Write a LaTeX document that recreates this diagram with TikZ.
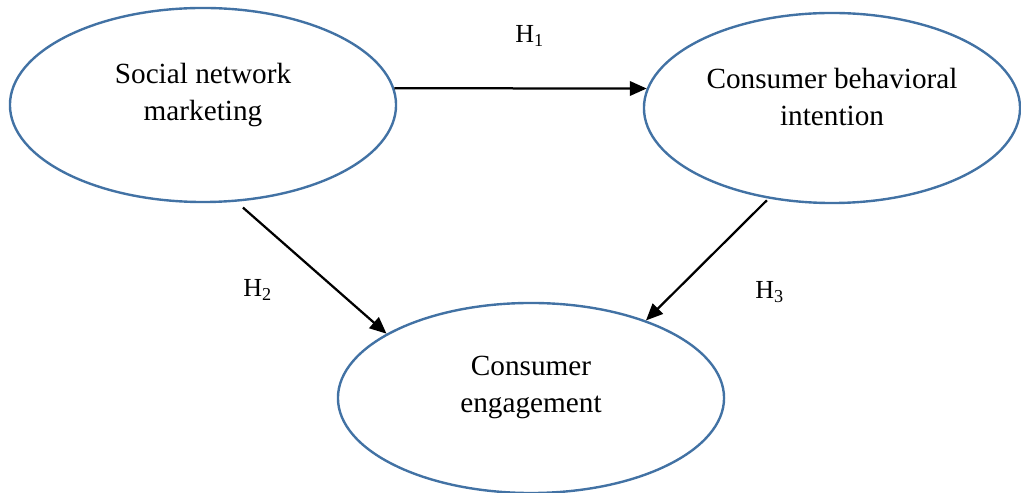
\documentclass[tikz,border=0pt]{standalone}
\usepackage{fontspec}
\setmainfont{Liberation Serif}
\usetikzlibrary{arrows.meta,shapes.geometric}
\definecolor{EllipseBlue}{RGB}{66,114,164}

\begin{document}
\begin{tikzpicture}[x=0.025cm,y=0.025cm]
		\useasboundingbox (0,0) rectangle (1021,493);
		\tikzset{ConstructStyle/.style = {ellipse, draw=EllipseBlue, line width=1.7pt, inner sep=0pt,
			minimum width=9.65cm, minimum height=4.85cm},
		TextStyle/.style = {align=center, font=\fontsize{20.8}{26.3}\selectfont},
		LabelStyle/.style = {font=\fontsize{18.5}{22}\selectfont},
		EdgeStyle/.style = {-{Triangle[length=0.42cm,width=0.36cm]}, line width=1.6pt}}
		% constructs
		\node[ConstructStyle, label={[TextStyle, yshift=0.25cm]center:{Social network\\marketing}}] (SNM) at (203,388) {};
		\node[ConstructStyle, minimum width=9.4cm, minimum height=4.75cm,
			label={[TextStyle, yshift=0.27cm]center:{Consumer behavioral\\intention}}] (CBI) at (832,385) {};
		\node[ConstructStyle, minimum height=4.75cm,
			label={[TextStyle, yshift=0.27cm]center:{Consumer\\engagement}}] (ENG) at (531,95) {};
		% hypotheses
		\draw[EdgeStyle] (SNM.5) -- (CBI.174);
		\draw[EdgeStyle, shorten <=0.22cm] (SNM.289) -- (ENG.156);
		\draw[EdgeStyle, shorten <=0.06cm] (CBI.235) -- (ENG.34);
		\node[LabelStyle, anchor=base west, inner sep=0pt] (H1) at (515,450) {H\textsubscript{1}};
		\node[LabelStyle, anchor=base west, inner sep=0pt] (H2) at (243,196) {H\textsubscript{2}};
		\node[LabelStyle, anchor=base west, inner sep=0pt] (H3) at (755,194) {H\textsubscript{3}};
	\end{tikzpicture}
\end{document}
